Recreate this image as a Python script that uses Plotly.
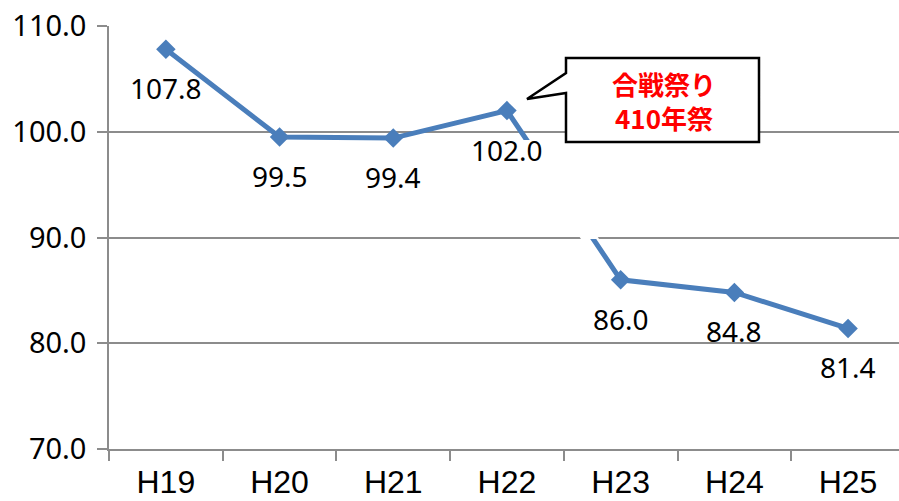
import plotly.graph_objects as go

# Fiscal years and index values
years = ["H19", "H20", "H21", "H22", "H23", "H24", "H25"]
values = [107.8, 99.5, 99.4, 102.0, 86.0, 84.8, 81.4]
value_labels = ["107.8", "99.5", "99.4", "102.0", "86.0", "84.8", "81.4"]
y_ticks = [70, 80, 90, 100, 110]
y_tick_text = ["70.0", "80.0", "90.0", "100.0", "110.0"]
callout_lines = ["合戦祭り", "410年祭"]

W, H = 899, 501
ML, MR, MT, MB = 109, 0, 26, 52
PW, PH = W - ML - MR, H - MT - MB

BLUE = "#4a7ebb"
GRID = "#8c8c8c"
NUM_FONT = "Noto Sans, Liberation Sans, sans-serif"
CAT_FONT = "Liberation Sans Narrow, Liberation Sans, sans-serif"


def px(x):
    return (x - ML) / PW


def py(y):
    return (H - MB - y) / PH


def path(points):
    return "M " + " L ".join(f"{px(x):.5f},{py(y):.5f}" for x, y in points) + " Z"


fig = go.Figure()
fig.add_trace(go.Scatter(
    x=years, y=values, mode="lines+markers",
    line=dict(color=BLUE, width=5),
    marker=dict(symbol="diamond", size=15, color=BLUE),
    hoverinfo="skip", showlegend=False,
))

# value labels under each point
for yr, v, t in zip(years, values, value_labels):
    fig.add_annotation(x=yr, y=v, text=t, showarrow=False, yshift=-39,
                       font=dict(family=NUM_FONT, size=28, color="#000000"))

shapes = [
    # white break over the H22-H23 drop
    dict(type="path", xref="paper", yref="paper",
         path=path([(516, 140), (542, 140), (599, 239), (581, 239)]),
         fillcolor="white", line=dict(width=0), layer="above"),
    # callout box with pointer
    dict(type="path", xref="paper", yref="paper",
         path=path([(566, 58), (759, 58), (759, 142), (566, 142),
                    (566, 93), (527, 99), (566, 73)]),
         fillcolor="white", line=dict(color="#000000", width=2.5), layer="above"),
]

fig.add_annotation(xref="paper", yref="paper", x=px(664), y=py(100),
                   xanchor="center", yanchor="middle",
                   text="<b>" + "<br>".join(callout_lines) + "</b>", showarrow=False,
                   font=dict(family="Noto Sans CJK JP", size=26, color="#ff0000"))

fig.update_layout(
    width=W, height=H,
    margin=dict(l=ML, r=MR, t=MT, b=MB),
    paper_bgcolor="white", plot_bgcolor="white",
    shapes=shapes,
    xaxis=dict(
        range=[-0.5, 6.448], type="category", automargin=False,
        showline=True, linecolor=GRID, linewidth=1.5,
        ticks="outside", tickson="boundaries", ticklen=10, tickcolor=GRID, tickwidth=1.5,
        showgrid=False, zeroline=False,
        tickfont=dict(family=CAT_FONT, size=32, color="#000000"),
        ticklabelstandoff=4,
    ),
    yaxis=dict(
        range=[70, 110], tickvals=y_ticks, ticktext=y_tick_text, automargin=False,
        showline=True, linecolor=GRID, linewidth=1.5,
        ticks="outside", ticklen=10, tickcolor=GRID, tickwidth=1.5,
        showgrid=True, gridcolor=GRID, gridwidth=1.5, zeroline=False,
        tickfont=dict(family=NUM_FONT, size=29, color="#000000"),
        ticklabelstandoff=5,
    ),
)

fig.write_html("out.html")
